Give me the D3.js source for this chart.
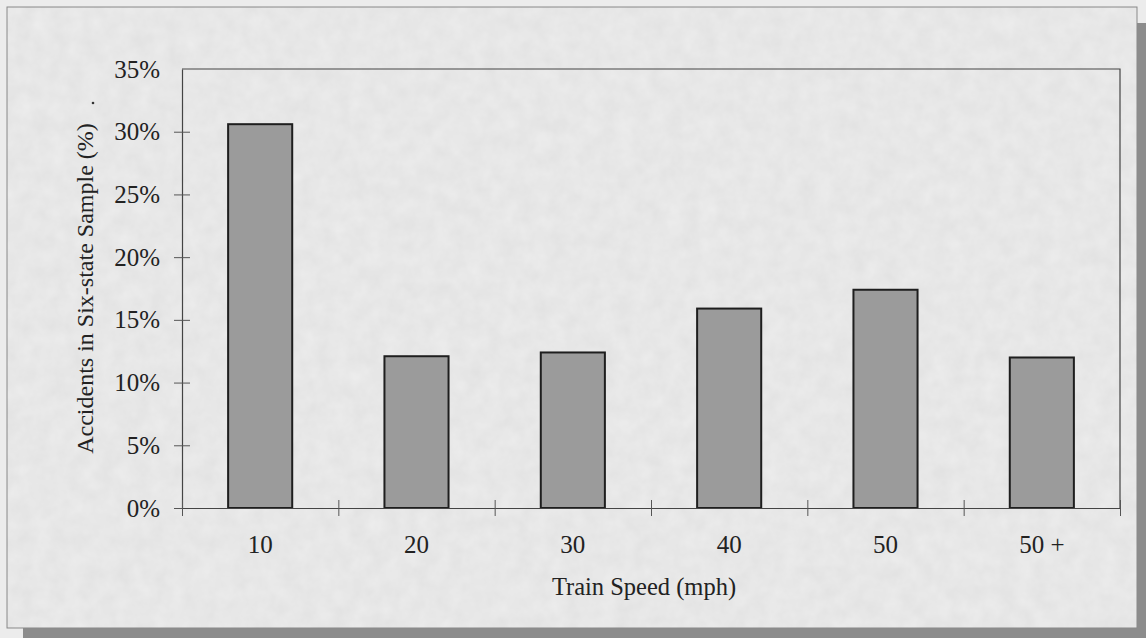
<!DOCTYPE html>
<html>
<head>
<meta charset="utf-8">
<script src="https://cdn.jsdelivr.net/npm/d3@7"></script>
<style>
  body { margin: 0; background: #ececec; }
  svg { display: block; }
  text { font-family: "Liberation Serif", "DejaVu Serif", serif; fill: #222; }
</style>
</head>
<body>
<div id="chart"></div>
<script>
// Data
const speeds = ["10", "20", "30", "40", "50", "50 +"];
const accidentShare = [30.6, 12.1, 12.4, 15.9, 17.4, 12.0];
const yTicks = [0, 5, 10, 15, 20, 25, 30, 35];

const width = 1146;
const height = 638;
const margin = { top: 69, right: 26, bottom: 130, left: 182 };

const svg = d3.select("#chart")
  .append("svg")
  .attr("width", width)
  .attr("height", height);

// Light paper texture
const defs = svg.append("defs");
const noise = defs.append("filter").attr("id", "paper")
  .attr("x", 0).attr("y", 0).attr("width", "100%").attr("height", "100%");
noise.append("feTurbulence")
  .attr("type", "fractalNoise")
  .attr("baseFrequency", 0.06)
  .attr("numOctaves", 3)
  .attr("result", "n");
noise.append("feColorMatrix")
  .attr("type", "matrix")
  .attr("values", "0 0 0 0 0  0 0 0 0 0  0 0 0 0 0  0 0 0 0.05 0");

// Drop shadow + frame
svg.append("rect")
  .attr("x", 23).attr("y", 23)
  .attr("width", width - 23).attr("height", height - 23)
  .attr("fill", "#8c8c8c");
svg.append("rect")
  .attr("x", 7).attr("y", 7)
  .attr("width", 1130).attr("height", 621)
  .attr("fill", "#ededed")
  .attr("stroke", "#8a8a8a")
  .attr("stroke-width", 1);
svg.append("rect")
  .attr("x", 7).attr("y", 7)
  .attr("width", 1130).attr("height", 621)
  .attr("filter", "url(#paper)");

const x = d3.scaleBand()
  .domain(speeds)
  .range([margin.left, width - margin.right])
  .paddingInner(0.59)
  .paddingOuter(0.295);

const xEdges = d3.scaleLinear()
  .domain([0, speeds.length])
  .range([margin.left, width - margin.right]);

const y = d3.scaleLinear()
  .domain([0, 35])
  .range([height - margin.bottom, margin.top]);

// Plot frame (top and right edges)
svg.append("path")
  .attr("d", `M${margin.left},${margin.top}H${width - margin.right}V${height - margin.bottom}`)
  .attr("fill", "none")
  .attr("stroke", "#444")
  .attr("stroke-width", 1.2);

// Bars
svg.append("g")
  .selectAll("rect")
  .data(accidentShare)
  .join("rect")
  .attr("x", (d, i) => x(speeds[i]))
  .attr("y", d => y(d))
  .attr("width", x.bandwidth())
  .attr("height", d => y(0) - y(d))
  .attr("fill", "#9b9b9b")
  .attr("stroke", "#1e1e1e")
  .attr("stroke-width", 2);

// Y axis
const yAxis = svg.append("g")
  .attr("transform", `translate(${margin.left},0)`)
  .call(d3.axisLeft(y)
    .tickValues(yTicks)
    .tickFormat(d => d + "%")
    .tickSizeInner(8)
    .tickSizeOuter(0)
    .tickPadding(14));
yAxis.selectAll(".tick line").attr("x2", 8).attr("x1", -8);
yAxis.selectAll(".tick").filter(d => d === 35).select("line").remove();
yAxis.select(".domain").attr("stroke", "#444").attr("stroke-width", 1.2);
yAxis.selectAll(".tick line").attr("stroke", "#555");
yAxis.selectAll("text")
  .style("font-size", "25px")
  .attr("fill", "#222");

// X axis: ticks at category edges
const xAxis = svg.append("g")
  .attr("transform", `translate(0,${height - margin.bottom})`)
  .call(d3.axisBottom(xEdges)
    .tickValues(d3.range(speeds.length + 1))
    .tickFormat("")
    .tickSizeInner(8)
    .tickSizeOuter(0));
xAxis.selectAll(".tick line").attr("y1", -8).attr("y2", 8).attr("stroke", "#555");
xAxis.select(".domain").attr("stroke", "#444").attr("stroke-width", 1.2);

// Category labels
svg.append("g")
  .selectAll("text")
  .data(speeds)
  .join("text")
  .attr("x", d => x(d) + x.bandwidth() / 2)
  .attr("y", height - margin.bottom + 45)
  .attr("text-anchor", "middle")
  .style("font-size", "25px")
  .text(d => d);

// Axis titles
svg.append("text")
  .attr("x", xEdges(speeds.length / 2) - 7)
  .attr("y", 595)
  .attr("text-anchor", "middle")
  .style("font-size", "24.5px")
  .text("Train Speed (mph)");

svg.append("text")
  .attr("transform", `translate(93,${y(17.5)}) rotate(-90)`)
  .attr("text-anchor", "middle")
  .style("font-size", "24px")
  .text("Accidents in Six-state Sample (%)");

// stray dot in the scan
svg.append("circle")
  .attr("cx", 93).attr("cy", 103).attr("r", 1.3).attr("fill", "#333");
</script>
</body>
</html>
